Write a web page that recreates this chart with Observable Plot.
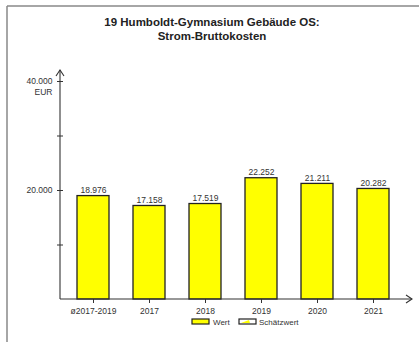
<!DOCTYPE html>
<html>
<head>
<meta charset="utf-8">
<script src="https://cdn.jsdelivr.net/npm/d3@7"></script>
<script src="https://cdn.jsdelivr.net/npm/@observablehq/plot@0.6"></script>
<style>
  html, body { margin: 0; padding: 0; background: white; }
  #wrap { position: relative; width: 419px; height: 342px; overflow: hidden; font-family: "Liberation Sans", Arial, sans-serif; }
  #wrap svg { position: absolute; left: 0; top: 0; }
</style>
</head>
<body>
<div id="wrap"></div>
<script>
const titleLines = ["19 Humboldt-Gymnasium Gebäude OS:", "Strom-Bruttokosten"];
const categories = ["ø2017-2019", "2017", "2018", "2019", "2020", "2021"];
const values = [18976, 17158, 17519, 22252, 21211, 20282];
const yTicks = [10000, 20000, 30000, 40000];
const yLabelTicks = [20000, 40000];
const unitLabel = "EUR";
const legendLabels = ["Wert", "Schätzwert"];

const de = d3.formatLocale({decimal: ",", thousands: ".", grouping: [3], currency: ["", " €"]});
const fmt = de.format(",d");

const data = categories.map((c, i) => ({cat: c, value: values[i]}));

const plot = Plot.plot({
  width: 419,
  height: 342,
  marginLeft: 63,
  marginRight: 17,
  marginTop: 81,
  marginBottom: 43,
  style: {fontFamily: "'Liberation Sans', Arial, sans-serif", background: "transparent", overflow: "visible"},
  x: {domain: categories, paddingInner: 0.43, paddingOuter: 0.215, axis: null, label: null},
  y: {domain: [0, 40000], axis: null, label: null},
  marks: [
    Plot.barY(data, {x: "cat", y: "value", fill: "#ffff00", stroke: "#222", strokeWidth: 1.3}),
    Plot.text(data, {x: "cat", y: "value", text: d => fmt(d.value), dy: -6, fontSize: 8.5, fill: "#333"}),
    Plot.axisX({anchor: "bottom", label: null, tickSize: 4, tickPadding: 4, fontSize: 8.5, color: "#333", stroke: "#333"}),
    Plot.axisY({anchor: "left", label: null, ticks: yTicks, tickSize: 6, tickPadding: 5, fontSize: 8.5, color: "#333",
      tickFormat: d => yLabelTicks.includes(d) ? fmt(d) : ""}),
    Plot.text([yTicks[yTicks.length - 1]], {y: d => d, text: () => unitLabel, frameAnchor: "left", textAnchor: "end", dx: -11, dy: 11, fontSize: 8.5, fill: "#333"})
  ]
});

document.getElementById("wrap").appendChild(plot);

// Axis lines with arrow heads, positioned from the plot's scales
const svg = d3.select(plot);
const xr = plot.scale("x").range;
const yS = plot.scale("y");
const y0 = yS.apply(0);
const yTop = yS.apply(40000) - 11;
const ax = xr[0] - 3;
const xEnd = xr[1] + 10;
const g = svg.append("g").attr("fill", "none").attr("stroke", "#333").attr("stroke-width", 1.1);
g.append("line").attr("x1", ax).attr("x2", ax).attr("y1", y0).attr("y2", yTop);
g.append("path").attr("d", `M${ax - 4},${yTop + 6}L${ax},${yTop}L${ax + 4},${yTop + 6}`);
g.append("line").attr("x1", ax).attr("x2", xEnd).attr("y1", y0).attr("y2", y0);
g.append("path").attr("d", `M${xEnd - 6},${y0 - 4}L${xEnd},${y0}L${xEnd - 6},${y0 + 4}`);

// Outer frame (top and left)
const fr = svg.append("g").attr("stroke", "#888").attr("stroke-width", 1.5).attr("fill", "none");
fr.append("line").attr("x1", 7).attr("x2", 419).attr("y1", 6).attr("y2", 6);
fr.append("line").attr("x1", 7).attr("x2", 7).attr("y1", 6).attr("y2", 342);

// Title
const t = svg.append("text").attr("text-anchor", "middle").attr("font-weight", "bold")
  .attr("font-size", 11.5).attr("fill", "#222");
titleLines.forEach((line, i) => {
  t.append("tspan").attr("x", 212).attr("y", 26 + i * 14).text(line);
});

// Legend
const lg = svg.append("g").attr("font-size", 8).attr("fill", "#333").attr("text-anchor", "start");
const lx = [192, 239];
const ly = 319;
lg.append("rect").attr("x", lx[0]).attr("y", ly).attr("width", 17).attr("height", 5)
  .attr("fill", "#ffff00").attr("stroke", "#222").attr("stroke-width", 1.2);
lg.append("text").attr("x", lx[0] + 21).attr("y", ly + 6).text(legendLabels[0]);
lg.append("rect").attr("x", lx[1]).attr("y", ly).attr("width", 17).attr("height", 5)
  .attr("fill", "#fff").attr("stroke", "#222").attr("stroke-width", 1.2);
lg.append("path").attr("d", `M${lx[1] + 2},${ly + 4}L${lx[1] + 10},${ly + 1}L${lx[1] + 11},${ly + 4}Z`).attr("fill", "#ffff00");
lg.append("text").attr("x", lx[1] + 20).attr("y", ly + 6).text(legendLabels[1]);
</script>
</body>
</html>
